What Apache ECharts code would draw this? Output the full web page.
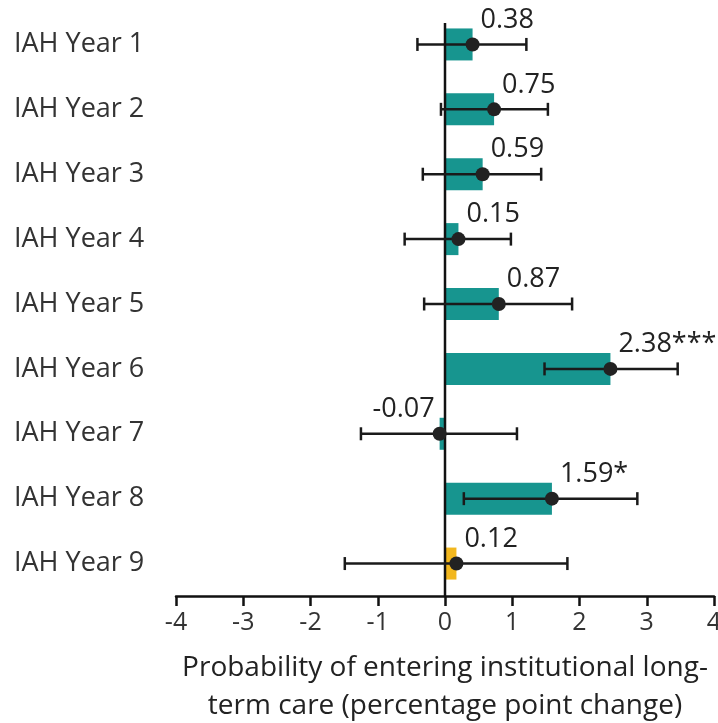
<!DOCTYPE html>
<html>
<head>
<meta charset="utf-8">
<script src="https://cdn.jsdelivr.net/npm/echarts@6/dist/echarts.min.js"></script>
<style>
html,body{margin:0;padding:0;background:#fff;}
#chart{width:718px;height:723px;}
</style>
</head>
<body>
<div id="chart"></div>
<script>
const categories = ['IAH Year 1','IAH Year 2','IAH Year 3','IAH Year 4','IAH Year 5','IAH Year 6','IAH Year 7','IAH Year 8','IAH Year 9'];
const estimates = [0.41, 0.73, 0.56, 0.20, 0.80, 2.46, -0.08, 1.59, 0.17];
const lowerCI = [-0.41, -0.06, -0.33, -0.60, -0.31, 1.48, -1.25, 0.28, -1.49];
const upperCI = [1.21, 1.53, 1.43, 0.98, 1.89, 3.46, 1.07, 2.86, 1.82];
const valueLabels = ['0.38','0.75','0.59','0.15','0.87','2.38***','-0.07','1.59*','0.12'];
const highlightYear = ['IAH Year 9'];
const xTicks = [-4, -3, -2, -1, 0, 1, 2, 3, 4];

const TEAL = '#17958f';
const GOLD = '#f2b71e';
const FONT = 'Open Sans';

const chart = echarts.init(document.getElementById('chart'));

const barData = estimates.map((v, i) => ({
  value: v,
  itemStyle: { color: highlightYear.includes(categories[i]) ? GOLD : TEAL }
}));

const errData = categories.map((c, i) => [i, lowerCI[i], upperCI[i]]);

const pointData = estimates.map((v, i) => ({
  value: [v, i],
  label: v < 0
    ? { position: [2, -4], align: 'right' }
    : { position: [15, -4], align: 'left' }
}));

chart.setOption({
  animation: false,
  grid: { left: 176, right: 4, top: 12, bottom: 127, containLabel: false, outerBoundsMode: 'none' },
  xAxis: {
    type: 'value',
    min: xTicks[0], max: xTicks[xTicks.length - 1], interval: 1,
    splitLine: { show: false },
    axisLine: { show: true, lineStyle: { color: '#111', width: 2.5 } },
    axisTick: { show: true, length: 10, lineStyle: { color: '#111', width: 2.5 } },
    axisLabel: { fontFamily: FONT, fontSize: 25, color: '#333', margin: 14 },
    name: 'Probability of entering institutional long-\nterm care (percentage point change)',
    nameLocation: 'middle',
    nameGap: 53,
    nameTextStyle: { fontFamily: FONT, fontSize: 28, color: '#222', lineHeight: 38, verticalAlign: 'top' }
  },
  yAxis: {
    type: 'category',
    data: categories,
    inverse: true,
    axisLine: { show: false },
    axisTick: { show: false },
    axisLabel: { fontFamily: FONT, fontSize: 27, color: '#333', align: 'left', margin: 162 }
  },
  series: [
    {
      type: 'bar',
      data: barData,
      barWidth: 32,
      z: 1
    },
    {
      type: 'custom',
      z: 3,
      data: errData,
      encode: { y: 0, x: [1, 2] },
      renderItem: function (params, api) {
        const idx = api.value(0);
        const lo = api.coord([api.value(1), idx]);
        const hi = api.coord([api.value(2), idx]);
        const h = 6.5;
        const style = { stroke: '#1a1a1a', lineWidth: 2.5, fill: null };
        const children = [
          { type: 'line', shape: { x1: lo[0], y1: lo[1], x2: hi[0], y2: hi[1] }, style: style },
          { type: 'line', shape: { x1: lo[0], y1: lo[1] - h, x2: lo[0], y2: lo[1] + h }, style: style },
          { type: 'line', shape: { x1: hi[0], y1: hi[1] - h, x2: hi[0], y2: hi[1] + h }, style: style }
        ];
        if (params.dataIndex === 0) {
          const cs = params.coordSys;
          const zx = api.coord([0, idx])[0];
          children.push({ type: 'line', shape: { x1: zx, y1: cs.y + 11, x2: zx, y2: cs.y + cs.height }, style: { stroke: '#111', lineWidth: 2.5 } });
        }
        return { type: 'group', children: children };
      }
    },
    {
      type: 'scatter',
      z: 4,
      data: pointData,
      symbol: 'circle',
      symbolSize: 14,
      itemStyle: { color: '#222', opacity: 1 },
      label: {
        show: true,
        verticalAlign: 'bottom',
        fontFamily: FONT,
        fontSize: 27,
        color: '#222',
        formatter: function (p) { return valueLabels[p.dataIndex]; }
      }
    }
  ]
});
</script>
</body>
</html>
